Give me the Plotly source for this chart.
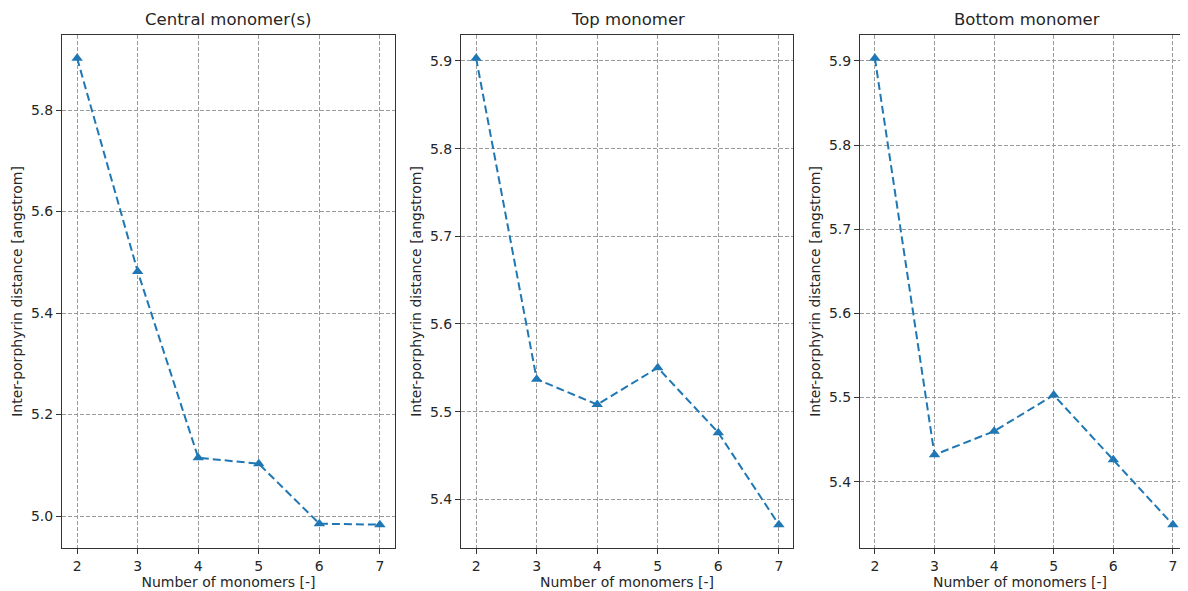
import plotly.graph_objects as go

n_monomers = [2, 3, 4, 5, 6, 7]
central = [5.902, 5.482, 5.115, 5.103, 4.985, 4.983]
top = [5.903, 5.537, 5.508, 5.550, 5.476, 5.371]
bottom = [5.903, 5.432, 5.460, 5.503, 5.426, 5.349]

titles = ["Central monomer(s)", "Top monomer", "Bottom monomer"]
series = [central, top, bottom]
y_ticks = [
    [5.0, 5.2, 5.4, 5.6, 5.8],
    [5.4, 5.5, 5.6, 5.7, 5.8, 5.9],
    [5.4, 5.5, 5.6, 5.7, 5.8, 5.9],
]

# page has an 8px body margin, so figure coordinates = page - 8
OFF = 8
W, H = 1188 - 2 * OFF, 591 - OFF
px_domains = [(62 - OFF, 395 - OFF), (461 - OFF, 793 - OFF), (860 - OFF, 1180 - OFF)]
ppu = [333 / 5.5, 333 / 5.5, 59.6]  # pixels per x unit
FONT = "DejaVu Sans"
BLUE = "#1f77b4"

fig = go.Figure()
layout = dict(
    width=W, height=H,
    margin=dict(l=0, r=0, t=35 - OFF, b=43),
    paper_bgcolor="white", plot_bgcolor="white",
    showlegend=False,
    font=dict(family=FONT, size=14, color="#262626"),
    annotations=[],
)

for i, (title, vals, yt) in enumerate(zip(titles, series, y_ticks)):
    idx = "" if i == 0 else str(i + 1)
    fig.add_trace(go.Scatter(
        x=n_monomers, y=vals, mode="lines+markers",
        line=dict(color=BLUE, width=2, dash="8px,4px"),
        marker=dict(symbol="triangle-up", size=10, color=BLUE),
        xaxis="x" + idx, yaxis="y" + idx, cliponaxis=False,
    ))
    d0, d1 = px_domains[i]
    lo, hi = min(vals), max(vals)
    pad = (hi - lo) * 0.05
    xr = [1.75, 1.75 + (d1 - d0) / ppu[i]]
    layout["xaxis" + idx] = dict(
        domain=[d0 / W, d1 / W], anchor="y" + idx, range=xr,
        tickvals=n_monomers, ticks="outside", ticklen=5, tickcolor="#333",
        showline=True, linecolor="#333", linewidth=1, mirror=True,
        showgrid=True, gridcolor="#9a9a9a", griddash="4px,2px", gridwidth=1,
        zeroline=False,
        title=dict(text="Number of monomers [-]", font=dict(size=14), standoff=4),
        tickfont=dict(size=14),
    )
    layout["yaxis" + idx] = dict(
        domain=[0, 1], anchor="x" + idx, range=[lo - pad, hi + pad],
        tickvals=yt, tickformat=".1f", ticks="outside", ticklen=5, tickcolor="#333",
        showline=True, linecolor="#333", linewidth=1, mirror=(i < 2),
        showgrid=True, gridcolor="#9a9a9a", griddash="4px,2px", gridwidth=1,
        zeroline=False,
        title=dict(text="Inter-porphyrin distance [angstrom]", font=dict(size=14), standoff=5),
        tickfont=dict(size=14),
    )
    layout["annotations"].append(dict(
        text=title, x=(d0 + d0 + 333) / 2 / W, y=1, xref="paper", yref="paper",
        xanchor="center", yanchor="bottom", yshift=4, showarrow=False,
        font=dict(size=16.5, family=FONT, color="#262626"),
    ))

fig.update_layout(**layout)
fig.write_html("out.html")
